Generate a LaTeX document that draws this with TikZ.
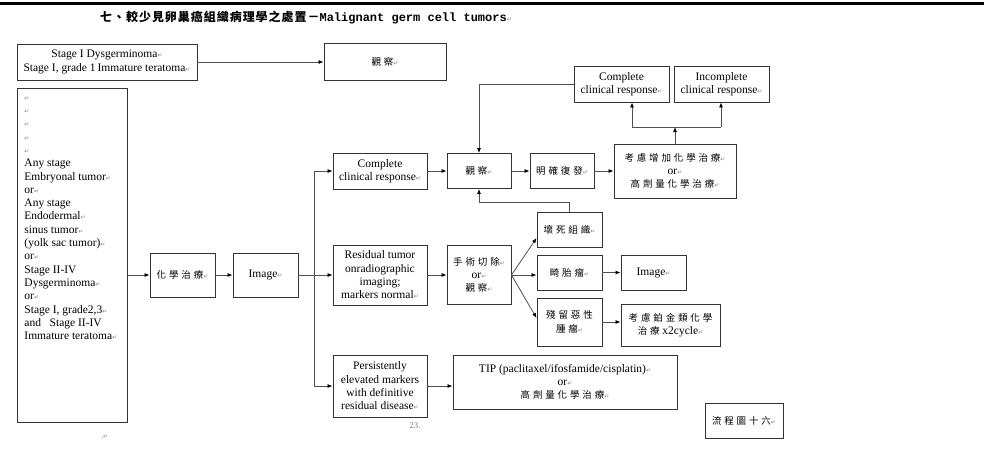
\documentclass[tikz,border=0pt]{standalone}
\usepackage{fontspec}
\setmainfont{Liberation Serif}
\newfontfamily\cjk[LetterSpace=30]{Noto Sans CJK TC}
\newfontfamily\cjkhead[LetterSpace=8]{Noto Sans CJK TC}
\newfontfamily\headmono{Liberation Mono}
\newfontfamily\glyphfont{DejaVu Sans}
\usetikzlibrary{arrows.meta}
\definecolor{linegray}{HTML}{505050}
\definecolor{boxgray}{HTML}{333333}
\newcommand\parmk{{\glyphfont\fontsize{6}{6}\selectfont\textcolor{gray}{↵}}}
\newcommand\zh[1]{{\cjk\fontsize{9.5}{13.3}\selectfont #1}}
\tikzset{
  fbox/.style={draw=boxgray, line width=0.9pt, align=center, inner sep=1pt,
    font=\fontsize{11.5}{13.3}\selectfont},
  flow/.style={draw=linegray, line width=0.8pt,
    -{Latex[length=5pt,width=4pt,color=black]}},
}
\begin{document}
\begin{tikzpicture}[x=1pt,y=-1pt]
      \useasboundingbox (0,0) rectangle (984,467);
      \draw[line width=3pt] (0,3) -- (984,3);
      \node[anchor=west, inner sep=0] (title) at (100,18)
        {{\cjkhead\bfseries\fontsize{12}{12}\selectfont 七、較少見卵巢癌組織病理學之處置－}{\headmono\bfseries\fontsize{12}{12}\selectfont Malignant germ cell tumors}\parmk};
      % left column of stages
      \node[fbox, anchor=north west, inner xsep=7pt, inner ysep=6pt] (tumors) at (17,88)
        {\parbox[t][322pt][t]{96pt}{\raggedright\vspace*{2pt}
          \parmk\\ \parmk\\ \parmk\\ \parmk\\ \parmk\\
          Any stage\\ Embryonal tumor\parmk\\ or\parmk\\
          Any stage\\ Endodermal\parmk\\ sinus tumor\parmk\\ (yolk sac tumor)\parmk\\ or\parmk\\
          Stage II-IV\\ Dysgerminoma\parmk\\ or\parmk\\
          Stage I, grade2,3\parmk\\ and\ \ \ Stage II-IV\\ Immature teratoma\parmk}};
      \path
        (107,62) node[fbox, minimum width=180, minimum height=36] (stageI)
          {Stage I Dysgerminoma\parmk\\Stage I, grade 1\,Immature teratoma\parmk}
        (385,62) node[fbox, minimum width=122, minimum height=37] (obsTop) {\zh{觀察}\parmk}
        (182.5,275) node[fbox, minimum width=65, minimum height=44] (chemo) {\zh{化學治療}\parmk}
        (265.5,275) node[fbox, minimum width=65, minimum height=44] (img1) {Image\parmk}
        (380,171) node[fbox, minimum width=94, minimum height=36] (ccr1) {Complete\\clinical response\parmk}
        (380,275) node[fbox, minimum width=94, minimum height=60] (resid1)
          {Residual tumor\\onradiographic\\imaging;\\markers normal\parmk}
        (380,386) node[fbox, minimum width=94, minimum height=62] (persist)
          {Persistently\\elevated markers\\with definitive\\residual disease\parmk}
        (565,382) node[fbox, minimum width=224, minimum height=54] (tip)
          {TIP (paclitaxel/ifosfamide/cisplatin)\parmk\\or\parmk\\\zh{高劑量化學治療}\parmk}
        (479,171) node[fbox, minimum width=64, minimum height=35] (obsMid) {\zh{觀察}\parmk}
        (562,171) node[fbox, minimum width=64, minimum height=35] (recur) {\zh{明確復發}\parmk}
        (675,171) node[fbox, minimum width=122, minimum height=54] (addchemo)
          {\zh{考慮增加化學治療}\parmk\\or\parmk\\\zh{高劑量化學治療}\parmk}
        (621.5,84) node[fbox, minimum width=95, minimum height=36] (ccr2) {Complete\\clinical response\parmk}
        (721.5,84) node[fbox, minimum width=95, minimum height=36] (icr) {Incomplete\\clinical response\parmk}
        (569.5,229.5) node[fbox, minimum width=65, minimum height=35] (necro) {\zh{壞死組織}\parmk}
        (479,275) node[fbox, minimum width=64, minimum height=59] (surg)
          {\zh{手術切除}\parmk\\or\parmk\\\zh{觀察}\parmk}
        (569.5,272.5) node[fbox, minimum width=65, minimum height=35] (terat) {\zh{畸胎瘤}\parmk}
        (569.5,322) node[fbox, minimum width=65, minimum height=48] (residca) {\zh{殘留惡性}\\\zh{腫瘤}\parmk}
        (653.5,272.5) node[fbox, minimum width=65, minimum height=35] (img2) {Image\parmk}
        (670.5,325) node[fbox, minimum width=99, minimum height=42] (platin)
          {\zh{考慮鉑金類化學}\\\zh{治療} x2cycle\parmk}
        (744,420.5) node[fbox, minimum width=78, minimum height=35] (flowno) {\zh{流程圖十六}\parmk};
      \node[text=gray, font=\fontsize{9}{9}\selectfont] (pageno) at (415,426) {23.};
      \node[font=\fontsize{6}{6}\selectfont] (dot) at (105,437) {.\parmk};
      \coordinate (split) at (314,275);
      \coordinate (hub) at (675,127);
      \coordinate (barL) at (632,127);
      \coordinate (barR) at (721,127);
      \begin{scope}[flow]
        \draw (stageI) -- (obsTop);
        \draw (tumors.east |- chemo) -- (chemo);
        \draw (chemo) -- (img1);
        \draw[-] (img1) -- (split);
        \draw (split) |- (ccr1);
        \draw (split) -- (resid1);
        \draw (split) |- (persist);
        \draw (persist) -- (persist -| tip.west);
        \draw (ccr1) -- (obsMid);
        \draw (obsMid) -- (recur);
        \draw (recur) -- (addchemo);
        \draw (addchemo) -- (hub);
        \draw[-] (barL) -- (barR);
        \draw (barL) -- (barL |- ccr2.south);
        \draw (barR) -- (barR |- icr.south);
        \draw (ccr2.west) -| (obsMid.north);
        \draw (necro.north) -- ++(0,-9) -| (obsMid.south);
        \draw (resid1) -- (surg);
        \draw (surg.east) -- ([yshift=-8.5pt]necro.west);
        \draw (surg.east) -- (surg.east -| terat.west);
        \draw (surg.east) -- ([yshift=4pt]residca.west);
        \draw (terat) -- (img2);
        \draw (residca.east) -- (residca.east -| platin.west);
      \end{scope}
    \end{tikzpicture}
\end{document}
